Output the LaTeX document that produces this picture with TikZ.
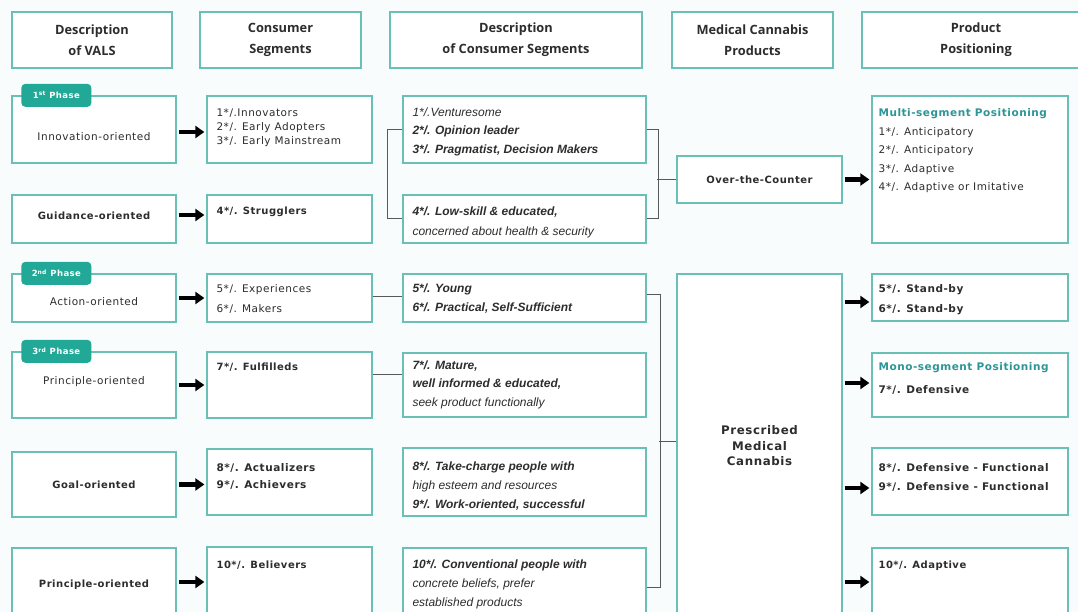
\documentclass[tikz,border=0pt]{standalone}
\usepackage{fontspec}
\setmainfont{DejaVu Sans}[LetterSpace=5]
\newfontfamily\headfont{Open Sans}
\newfontfamily\descfont{Liberation Sans}
\usetikzlibrary{arrows.meta}
\definecolor{vteal}{RGB}{104,192,182}
\definecolor{phaseteal}{RGB}{34,168,150}
\definecolor{headteal}{RGB}{44,150,150}
\definecolor{ink}{RGB}{45,45,45}
\definecolor{bgtint}{RGB}{248,252,252}

\begin{document}
\begin{tikzpicture}[
    x=1pt, y=-1pt,
    font=\fontsize{10.5}{15}\selectfont, text=ink,
    hdr/.style={draw=vteal, line width=1.3pt, fill=white, align=center,
        inner sep=0pt, font=\headfont\bfseries\fontsize{12.8}{21}\selectfont},
    box/.style={draw=vteal, line width=1.3pt, fill=white, inner sep=0pt},
    phase/.style={fill=phaseteal, rounded corners=4pt, text=white,
        inner sep=0pt, minimum width=70pt, minimum height=23pt,
        font=\bfseries\fontsize{8.5}{9}\selectfont},
    txt/.style={anchor=north west, align=left, inner sep=0pt},
    desc/.style={txt, font=\descfont\itshape\fontsize{12}{18.5}\selectfont},
    lbl/.style={align=center, inner sep=0pt},
    fat/.style={-{Triangle[length=9pt,width=12pt]}, line width=4.5pt,
        draw=black, shorten <=2pt, shorten >=2pt},
    link/.style={draw=black!65, line width=1pt}
]
\clip (0,0) rectangle (1078,612);
\fill[bgtint] (0,0) rectangle (1078,612);

% Headers
\node[hdr, minimum width=160pt, minimum height=56pt] (h1) at (92,40) {Description\\of VALS};
\node[hdr, minimum width=161pt, minimum height=56pt] (h2) at (280.5,40) {Consumer\\Segments};
\node[hdr, minimum width=252pt, minimum height=56pt] (h3) at (516,40) {Description\\of Consumer Segments};
\node[hdr, minimum width=161pt, minimum height=56pt] (h4) at (752.5,40) {Medical Cannabis\\Products};
\node[hdr, minimum width=228pt, minimum height=56pt] (h5) at (976,40) {Product\\Positioning};

% VALS description
\node[box, minimum width=164pt, minimum height=67pt] (v1) at (94,129.5) {};
\node[box, minimum width=164pt, minimum height=48pt] (v2) at (94,219) {};
\node[box, minimum width=164pt, minimum height=48pt] (v3) at (94,298) {};
\node[box, minimum width=164pt, minimum height=66pt] (v4) at (94,385) {};
\node[box, minimum width=164pt, minimum height=65pt] (v5) at (94,484.5) {};
\node[box, minimum width=164pt, minimum height=92pt] (v6) at (94,594) {};

\node[lbl] (v1t) at ([yshift=-7pt]v1.center) {Innovation-oriented};
\node[lbl, font=\bfseries] (v2t) at ([yshift=3pt]v2.center) {Guidance-oriented};
\node[lbl] (v3t) at ([yshift=-4pt]v3.center) {Action-oriented};
\node[lbl] (v4t) at ([yshift=3pt]v4.center) {Principle-oriented};
\node[lbl, font=\bfseries] (v5t) at (v5.center) {Goal-oriented};
\node[lbl, font=\bfseries] (v6t) at ([yshift=9pt]v6.center) {Principle-oriented};

\node[phase] (ph1) at ([xshift=45pt]v1.north west) {1\textsuperscript{st} Phase};
\node[phase] (ph2) at ([xshift=45pt]v3.north west) {2\textsuperscript{nd} Phase};
\node[phase] (ph3) at ([xshift=45pt]v4.north west) {3\textsuperscript{rd} Phase};

% Consumer segments
\node[box, minimum width=165pt, minimum height=67pt] (s1) at (289.5,129.5) {};
\node[box, minimum width=165pt, minimum height=48pt] (s2) at (289.5,219) {};
\node[box, minimum width=165pt, minimum height=48pt] (s3) at (289.5,298) {};
\node[box, minimum width=165pt, minimum height=66pt] (s4) at (289.5,385) {};
\node[box, minimum width=165pt, minimum height=66pt] (s5) at (289.5,482) {};
\node[box, minimum width=165pt, minimum height=92pt] (s6) at (289.5,593) {};

\node[txt, font=\fontsize{10.5}{14}\selectfont] (s1t) at ([shift={(10pt,-13pt)}]s1.north west)
    {1*/.Innovators\\2*/. Early Adopters\\3*/. Early Mainstream};
\node[txt, font=\bfseries] (s2t) at ([shift={(10pt,-12pt)}]s2.north west) {4*/. Strugglers};
\node[txt, font=\fontsize{10.5}{20}\selectfont] (s3t) at ([shift={(10pt,-11pt)}]s3.north west)
    {5*/. Experiences\\6*/. Makers};
\node[txt, font=\bfseries] (s4t) at ([shift={(10pt,-11pt)}]s4.north west) {7*/. Fulfilleds};
\node[txt, font=\bfseries\fontsize{10.5}{17}\selectfont] (s5t) at ([shift={(10pt,-15pt)}]s5.north west)
    {8*/. Actualizers\\9*/. Achievers};
\node[txt, font=\bfseries] (s6t) at ([shift={(10pt,-14pt)}]s6.north west) {10*/. Believers};

% Description of consumer segments
\node[box, minimum width=243pt, minimum height=67pt] (d1) at (524.5,129.5) {};
\node[box, minimum width=243pt, minimum height=48pt] (d2) at (524.5,219) {};
\node[box, minimum width=243pt, minimum height=48pt] (d3) at (524.5,298) {};
\node[box, minimum width=243pt, minimum height=64pt] (d4) at (524.5,385) {};
\node[box, minimum width=243pt, minimum height=68pt] (d5) at (524.5,482) {};
\node[box, minimum width=243pt, minimum height=92pt] (d6) at (524.5,594) {};

\node[desc] (d1t) at ([shift={(10pt,-12pt)}]d1.north west)
    {1*/.Venturesome\\\textbf{2*/. Opinion leader}\\\textbf{3*/. Pragmatist, Decision Makers}};
\node[desc, font=\descfont\itshape\fontsize{12}{20}\selectfont] (d2t) at ([shift={(10pt,-12pt)}]d2.north west)
    {\textbf{4*/. Low-skill \& educated,}\\concerned about health \& security};
\node[desc, font=\descfont\bfseries\itshape\fontsize{12}{19}\selectfont] (d3t) at ([shift={(10pt,-10pt)}]d3.north west)
    {5*/. Young\\6*/. Practical, Self-Sufficient};
\node[desc] (d4t) at ([shift={(10pt,-8pt)}]d4.north west)
    {\textbf{7*/. Mature,}\\\textbf{well informed \& educated,}\\seek product functionally};
\node[desc, font=\descfont\itshape\fontsize{12}{19}\selectfont] (d5t) at ([shift={(10pt,-14pt)}]d5.north west)
    {\textbf{8*/. Take-charge people with}\\high esteem and resources\\\textbf{9*/. Work-oriented, successful}};
\node[desc, font=\descfont\itshape\fontsize{12}{19}\selectfont] (d6t) at ([shift={(10pt,-12pt)}]d6.north west)
    {\textbf{10*/. Conventional people with}\\concrete beliefs, prefer\\established products};

% Medical cannabis products
\node[box, minimum width=165pt, minimum height=47pt, font=\bfseries] (otc) at (759.5,179.5) {Over-the-Counter};
\node[box, minimum width=165pt, minimum height=366pt] (presc) at (759.5,457) {};
\node[lbl, font=\bfseries\fontsize{11.8}{15.5}\selectfont] (presct) at ([yshift=11pt]presc.center)
    {Prescribed\\Medical\\Cannabis};

% Product positioning
\node[box, minimum width=196pt, minimum height=147pt] (p1) at (970,169.5) {};
\node[box, minimum width=196pt, minimum height=47pt] (p2) at (970,297.5) {};
\node[box, minimum width=196pt, minimum height=64pt] (p3) at (970,385) {};
\node[box, minimum width=196pt, minimum height=67pt] (p4) at (970,481.5) {};
\node[box, minimum width=196pt, minimum height=92pt] (p5) at (970,594) {};

\node[txt, font=\fontsize{10.5}{18.5}\selectfont] (p1t) at ([shift={(7pt,-13pt)}]p1.north west)
    {\textcolor{headteal}{\bfseries Multi-segment Positioning}\\1*/. Anticipatory\\2*/. Anticipatory\\3*/. Adaptive\\4*/. Adaptive or Imitative};
\node[txt, font=\bfseries\fontsize{10.5}{20}\selectfont] (p2t) at ([shift={(7pt,-11pt)}]p2.north west)
    {5*/. Stand-by\\6*/. Stand-by};
\node[txt, font=\bfseries\fontsize{10.5}{23}\selectfont] (p3t) at ([shift={(7pt,-10pt)}]p3.north west)
    {\textcolor{headteal}{Mono-segment Positioning}\\7*/. Defensive};
\node[txt, font=\bfseries\fontsize{10.5}{18.5}\selectfont] (p4t) at ([shift={(7pt,-16pt)}]p4.north west)
    {8*/. Defensive - Functional\\9*/. Defensive - Functional};
\node[txt, font=\bfseries] (p5t) at ([shift={(7pt,-13pt)}]p5.north west) {10*/. Adaptive};

% Fat arrows: VALS -> segments
\draw[fat] ([yshift=-2.5pt]v1.east) -- ([yshift=-2.5pt]v1.east -| s1.west);
\draw[fat] ([yshift=4pt]v2.east) -- ([yshift=4pt]v2.east -| s2.west);
\draw[fat] (v3.east) -- (v3.east -| s3.west);
\draw[fat] (v4.east) -- (v4.east -| s4.west);
\draw[fat] (v5.east) -- (v5.east -| s5.west);
\draw[fat] ([yshift=12pt]v6.east) -- ([yshift=12pt]v6.east -| s6.west);

% Fat arrows: products -> positioning
\draw[fat] (otc.east) -- (otc.east -| p1.west);
\draw[fat] ([yshift=-4.5pt]p2.west -| presc.east) -- ([yshift=-4.5pt]p2.west);
\draw[fat] ([yshift=2pt]p3.west -| presc.east) -- ([yshift=2pt]p3.west);
\draw[fat] ([yshift=-6.5pt]p4.west -| presc.east) -- ([yshift=-6.5pt]p4.west);
\draw[fat] ([yshift=12pt]p5.west -| presc.east) -- ([yshift=12pt]p5.west);

% Thin links and brackets
\draw[link] ([yshift=2pt]s3.east) -- ([yshift=2pt]s3.east -| d3.west);
\draw[link] ([yshift=11pt]s4.east) -- ([yshift=11pt]s4.east -| d4.west);
\draw[link] (d1.west) -- ++(-15,0) |- (d2.west);
\draw[link] (d1.east) -- ++(12,0) |- (d2.east);
\draw[link] (otc.west) -- ++(-19,0);
\draw[link] ([yshift=4pt]d3.east) -- ++(14,0) |- ([yshift=7pt]d6.east);
\draw[link] ([yshift=16pt]presc.west) -- ++(-17,0);

\end{tikzpicture}
\end{document}
